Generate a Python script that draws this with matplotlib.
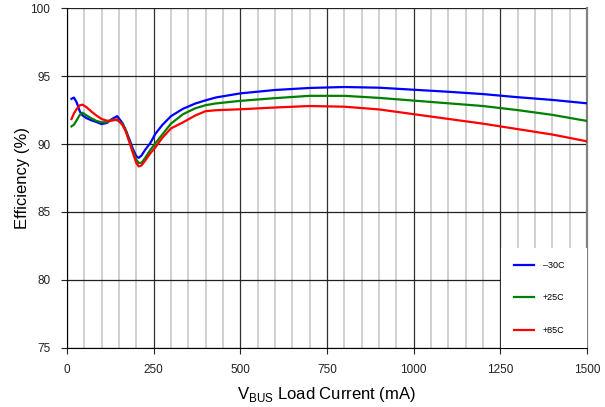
import numpy as np
import matplotlib.pyplot as plt

plt.rcParams['font.family'] = ['Liberation Sans', 'DejaVu Sans']
plt.rcParams['mathtext.fontset'] = 'custom'
plt.rcParams['mathtext.rm'] = 'Liberation Sans'

# load current (mA)
current = [13, 20, 28, 37, 45, 57, 70, 85, 100, 115, 130, 145, 160, 170, 180,
           190, 200, 207, 215, 225, 240, 255, 275, 300, 335, 370, 400, 430, 500,
           600, 700, 800, 900, 1000, 1100, 1200, 1300, 1400, 1500]

eff_m30 = [93.33, 93.42, 93.07, 92.4, 92.1, 91.9, 91.75, 91.62, 91.47, 91.55,
           91.85, 92.05, 91.55, 91.0, 90.35, 89.65, 89.1, 88.98, 89.15, 89.55,
           90.05, 90.75, 91.4, 92.05, 92.6, 92.98, 93.22, 93.43, 93.73, 93.98,
           94.13, 94.2, 94.15, 94.0, 93.85, 93.68, 93.45, 93.25, 93.0]
eff_25 = [91.3, 91.42, 91.75, 92.15, 92.3, 92.1, 91.9, 91.7, 91.6, 91.6, 91.8,
          91.75, 91.5, 91.0, 90.2, 89.5, 88.85, 88.6, 88.62, 88.95, 89.55, 90.05,
          90.7, 91.5, 92.2, 92.63, 92.86, 92.99, 93.18, 93.38, 93.55, 93.55,
          93.4, 93.2, 93.0, 92.8, 92.5, 92.15, 91.7]
eff_85 = [91.84, 92.25, 92.58, 92.85, 92.9, 92.7, 92.4, 92.1, 91.84, 91.72,
          91.72, 91.82, 91.4, 90.9, 90.15, 89.35, 88.6, 88.35, 88.42, 88.75,
          89.3, 89.75, 90.45, 91.15, 91.6, 92.1, 92.42, 92.49, 92.56, 92.69,
          92.8, 92.75, 92.55, 92.2, 91.85, 91.5, 91.1, 90.7, 90.2]

labels = ['\u201330C', '+25C', '+85C']
colors = ['#0000ff', '#008000', '#ff0000']

fig = plt.figure(figsize=(6.05, 4.07), dpi=100)
ax = fig.add_axes([0.1107, 0.146, 0.8593, 0.8336])

for y, lab, c in zip([eff_m30, eff_25, eff_85], labels, colors):
    ax.plot(current, y, color=c, lw=1.6, label=lab, zorder=3,
            solid_joinstyle='round')

ax.set_xlim(0, 1500)
ax.set_ylim(75, 100)
ax.set_xticks(np.arange(0, 1501, 250))
ax.set_yticks(np.arange(75, 101, 5))
ax.set_xticks(np.arange(50, 1500, 50), minor=True)

ax.grid(which='minor', axis='x', color='#c4c4c4', lw=1.1)
ax.grid(which='major', axis='x', color='#303030', lw=0.9)
ax.grid(which='major', axis='y', color='#202020', lw=0.9)
ax.tick_params(which='minor', length=0)
ax.tick_params(which='major', direction='out', length=4, width=0.8,
               labelsize=8.5, colors='#222222', pad=8)

ax.spines['top'].set_visible(False)
ax.spines['right'].set_color('#808080')
ax.spines['right'].set_linewidth(1.6)

ax.set_xlabel(r'V$_\mathrm{BUS}$ Load Current (mA)', fontsize=12, labelpad=6)
ax.set_ylabel('Efficiency (%)', fontsize=12)
ax.yaxis.set_label_coords(-0.072, 0.5)

leg = ax.legend(loc='lower left', bbox_to_anchor=(0.835, 0.0, 0.165, 0.28),
                mode='expand', borderaxespad=0, fontsize=6.5, frameon=True,
                fancybox=False, edgecolor='none', facecolor='white', framealpha=1,
                handlelength=2.2, handletextpad=1.0, labelspacing=2.6,
                borderpad=1.4)
leg.set_zorder(5)

fig.savefig('out.png', dpi=100)
